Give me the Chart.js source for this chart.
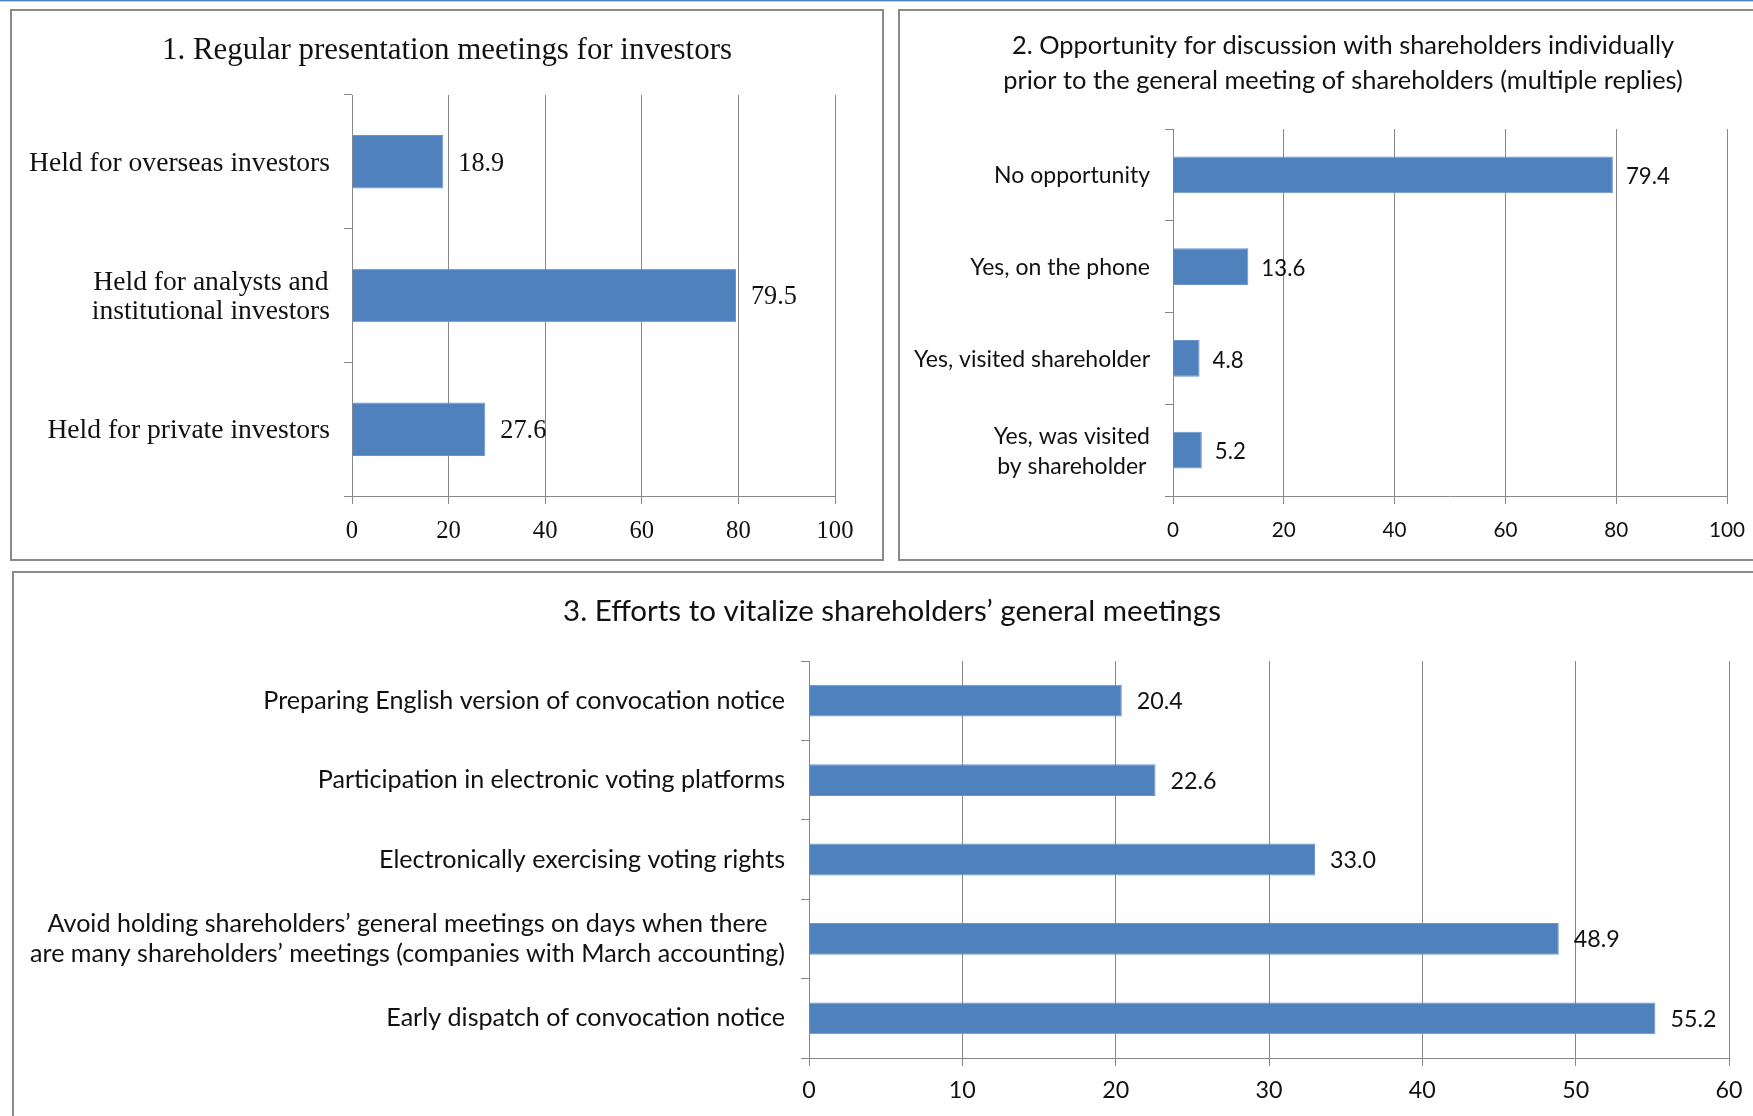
<!DOCTYPE html>
<html><head><meta charset="utf-8">
<script src="https://cdn.jsdelivr.net/npm/chart.js@4.4.1/dist/chart.umd.min.js"></script>
<style>
html,body{margin:0;padding:0;background:#fff;width:1753px;height:1116px;overflow:hidden;position:relative}
.topline{position:absolute;left:0;top:0;width:1753px;height:1px;background:#4f81bd}
.topline2{position:absolute;left:0;top:1px;width:1753px;height:1px;background:#b9cde7}
.panel{position:absolute;box-sizing:border-box;border:2px solid #8a8a8a;background:#fff}
canvas{position:absolute}
</style></head><body>
<div class="topline"></div><div class="topline2"></div>
<div class="panel" style="left:10px;top:9px;width:874px;height:552px"></div>
<div class="panel" style="left:898px;top:9px;width:1000px;height:552px"></div>
<div class="panel" style="left:12px;top:571px;width:1800px;height:700px"></div>
<canvas id="c1" width="870" height="548" style="left:12px;top:11px"></canvas>
<canvas id="c2" width="886" height="548" style="left:900px;top:11px"></canvas>
<canvas id="c3" width="1756" height="543" style="left:14px;top:573px"></canvas>
<script>
// ---------- DATA ----------
const chart1Title = '1. Regular presentation meetings for investors';
const chart1Categories = [
  ['Held for overseas investors'],
  ['Held for analysts and', 'institutional investors'],
  ['Held for private investors']
];
const chart1Values = [18.9, 79.5, 27.6];
const chart1Ticks = [0, 20, 40, 60, 80, 100];

const chart2Title = [
  '2. Opportunity for discussion with shareholders individually',
  'prior to the general meeting of shareholders (multiple replies)'
];
const chart2Categories = [
  ['No opportunity'],
  ['Yes, on the phone'],
  ['Yes, visited shareholder'],
  ['Yes, was visited', 'by shareholder']
];
const chart2Values = [79.4, 13.6, 4.8, 5.2];
const chart2Ticks = [0, 20, 40, 60, 80, 100];

const chart3Title = '3. Efforts to vitalize shareholders\u2019 general meetings';
const chart3Categories = [
  ['Preparing English version of convocation notice'],
  ['Participation in electronic voting platforms'],
  ['Electronically exercising voting rights'],
  ['Avoid holding shareholders\u2019 general meetings on days when there',
   'are many shareholders\u2019 meetings (companies with March accounting)'],
  ['Early dispatch of convocation notice']
];
const chart3Values = [20.4, 22.6, 33.0, 48.9, 55.2];
const chart3Ticks = [0, 10, 20, 30, 40, 50, 60];

// ---------- STYLE ----------
const SERIF = 'Liberation Serif';
const SANS = 'Lato';
const TEXT = '#111111';
const GRID = '#888888';
const BAR = '#4f81bd';
const BAR_EDGE = '#6a94c9';

const mctx = document.createElement('canvas').getContext('2d');
function fit(family, text, width) {
  mctx.font = '100px "' + family + '"';
  return 100 * width / mctx.measureText(text).width;
}

const labelPlugin = {
  id: 'customLabels',
  afterDatasetsDraw(chart, args, o) {
    const ctx = chart.ctx, ys = chart.scales.y, ca = chart.chartArea;
    ctx.save();
    ctx.fillStyle = TEXT;
    ctx.textBaseline = 'middle';
    ctx.font = o.catSize + 'px "' + o.family + '"';
    ctx.textAlign = 'center';
    chart.data.labels.forEach((lines, i) => {
      const yc = ys.getPixelForTick(i) + o.catShift;
      const bw = Math.max(...lines.map(l => ctx.measureText(l).width));
      const cx = ca.left - o.catGap - bw / 2;
      lines.forEach((l, j) => ctx.fillText(l, cx, yc + (j - (lines.length - 1) / 2) * o.catLineGap));
    });
    ctx.font = o.dataSize + 'px "' + o.family + '"';
    ctx.textAlign = 'left';
    const meta = chart.getDatasetMeta(0);
    const vals = chart.data.datasets[0].data;
    meta.data.forEach((bar, i) => ctx.fillText(vals[i].toFixed(1), bar.x + o.dataGap, bar.y + o.dataShift));
    ctx.restore();
  }
};

function makeChart(id, c) {
  const titleLH = c.titleLineHeight;
  const nLines = Array.isArray(c.title) ? c.title.length : 1;
  const padTop = c.titleCenter - titleLH / 2;
  const padBottom = c.chartTop - padTop - titleLH * nLines;
  return new Chart(document.getElementById(id), {
    type: 'bar',
    data: {
      labels: c.labels,
      datasets: [{
        data: c.values, backgroundColor: BAR, borderColor: BAR_EDGE, borderWidth: 1,
        barPercentage: 0.4, categoryPercentage: 1
      }]
    },
    options: {
      indexAxis: 'y', responsive: false, animation: false, events: [],
      layout: { padding: { top: 0, bottom: 0, left: c.side, right: c.side } },
      plugins: {
        legend: { display: false }, tooltip: { enabled: false },
        title: {
          display: true, text: c.title, color: TEXT,
          font: { family: c.family, size: c.titleSize, lineHeight: titleLH + 'px', weight: 'normal' },
          padding: { top: padTop, bottom: padBottom }
        },
        customLabels: {
          family: c.family, catSize: c.catSize, catGap: c.catGap, catLineGap: c.catLineGap,
          catShift: c.catShift, dataSize: c.dataSize, dataGap: c.dataGap, dataShift: c.dataShift
        }
      },
      scales: {
        x: {
          type: 'linear', position: 'bottom',
          min: c.ticks[0], max: c.ticks[c.ticks.length - 1],
          afterBuildTicks: s => { s.ticks = c.ticks.map(v => ({ value: v })); },
          afterFit: s => { s.height = c.xHeight; },
          grid: { color: GRID, lineWidth: 1, drawTicks: true, tickLength: 8 },
          border: { color: GRID, width: 1 },
          ticks: {
            color: TEXT, autoSkip: false, maxRotation: 0,
            font: { family: c.family, size: c.tickSize, lineHeight: 1.2 },
            padding: c.tickOffset - 8 - 0.6 * c.tickSize
          }
        },
        y: {
          type: 'category',
          afterFit: s => { s.width = c.yWidth; },
          grid: { offset: true, drawOnChartArea: false, color: GRID, drawTicks: true, tickLength: 8 },
          border: { color: GRID, width: 1 },
          ticks: { display: false }
        }
      }
    },
    plugins: [labelPlugin]
  });
}

makeChart('c1', {
  labels: chart1Categories, values: chart1Values, ticks: chart1Ticks, title: chart1Title,
  family: SERIF,
  titleSize: fit(SERIF, chart1Title, 570), titleLineHeight: 34, titleCenter: 40, chartTop: 84,
  side: 47, yWidth: 340 - 47, xHeight: 63,
  catSize: fit(SERIF, 'Held for overseas investors', 301), catGap: 22, catLineGap: 29, catShift: 2,
  tickSize: fit(SERIF, '100', 37), tickOffset: 36,
  dataSize: fit(SERIF, '79.5', 46), dataGap: 15, dataShift: 2
});

makeChart('c2', {
  labels: chart2Categories, values: chart2Values, ticks: chart2Ticks, title: chart2Title,
  family: SANS,
  titleSize: fit(SANS, chart2Title[1], 680), titleLineHeight: 35, titleCenter: 35, chartTop: 118,
  side: 59, yWidth: 273 - 59, xHeight: 63,
  catSize: fit(SANS, 'Yes, visited shareholder', 236), catGap: 23, catLineGap: 30, catShift: 1,
  tickSize: fit(SANS, '100', 36), tickOffset: 34,
  dataSize: fit(SANS, '79.4', 44), dataGap: 13, dataShift: 2
});

makeChart('c3', {
  labels: chart3Categories, values: chart3Values, ticks: chart3Ticks, title: chart3Title,
  family: SANS,
  titleSize: fit(SANS, chart3Title, 658), titleLineHeight: 34, titleCenter: 38, chartTop: 88,
  side: 41, yWidth: 795 - 41, xHeight: 58,
  catSize: fit(SANS, chart3Categories[3][1], 755), catGap: 24, catLineGap: 30, catShift: 0,
  tickSize: fit(SANS, '60', 27), tickOffset: 32,
  dataSize: fit(SANS, '55.2', 46), dataGap: 15, dataShift: 1
});
</script>
</body></html>
